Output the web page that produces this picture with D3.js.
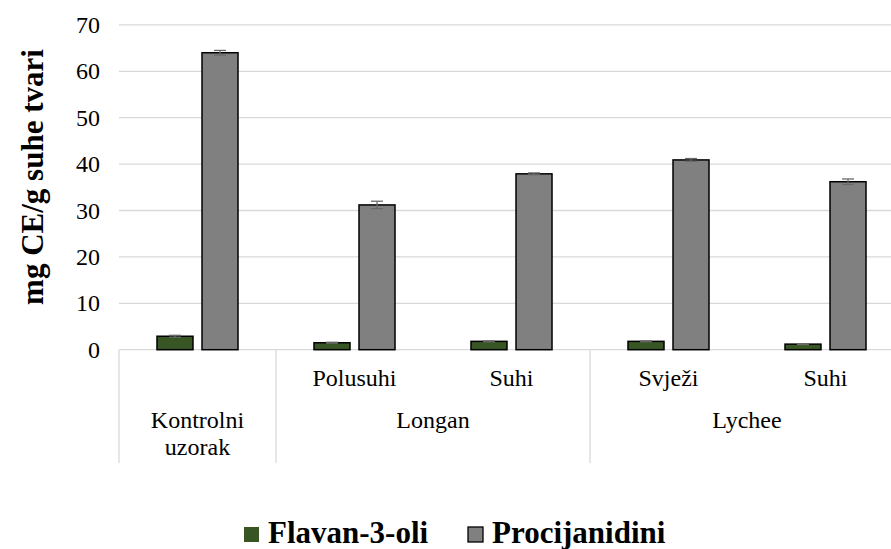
<!DOCTYPE html>
<html>
<head>
<meta charset="utf-8">
<script src="https://cdn.jsdelivr.net/npm/d3@7/dist/d3.min.js"></script>
<style>
  html, body { margin: 0; padding: 0; background: #fff; }
  svg { display: block; }
</style>
</head>
<body>
<svg id="chart" width="891" height="549" font-family="'Liberation Serif', 'Times New Roman', Times, serif"></svg>
<script>
// ---- data ----
const subLabels = ["", "Polusuhi", "Suhi", "Svježi", "Suhi"];
const groups = [
  { name: ["Kontrolni", "uzorak"], count: 1 },
  { name: ["Longan"], count: 2 },
  { name: ["Lychee"], count: 2 }
];
const seriesNames = ["Flavan-3-oli", "Procijanidini"];
const flavanValues = [2.9, 1.5, 1.8, 1.8, 1.2];
const flavanErrors = [0.2, 0.1, 0.1, 0.1, 0.1];
const procValues = [64.0, 31.2, 37.9, 40.9, 36.2];
const procErrors = [0.5, 0.8, 0.2, 0.3, 0.6];
const yTicks = [0, 10, 20, 30, 40, 50, 60, 70];
const colors = ["#375623", "#808080"];

// ---- layout ----
const FONT = "'Liberation Serif', 'Times New Roman', Times, serif";
const svg = d3.select("#chart");
const plotLeft = 119, plotRight = 904, plotTop = 24.9, plotBottom = 349.7;

const x = d3.scaleBand().domain(d3.range(subLabels.length)).range([plotLeft, plotRight]).padding(0);
const xs = d3.scaleBand().domain(seriesNames).range([0, x.bandwidth()])
  .paddingInner(0.2).paddingOuter(0.844);
const y = d3.scaleLinear().domain([0, 70]).range([plotBottom, plotTop]);

// gridlines
svg.append("g").selectAll("line").data(yTicks).join("line")
  .attr("x1", plotLeft).attr("x2", plotRight)
  .attr("y1", d => y(d)).attr("y2", d => y(d))
  .attr("stroke", "#d9d9d9").attr("stroke-width", 1.3);

// y tick labels
svg.append("g").selectAll("text").data(yTicks).join("text")
  .attr("x", 100).attr("y", d => y(d) + 8)
  .attr("text-anchor", "end")
  .attr("font-family", FONT)
  .attr("font-size", 24).attr("fill", "#000")
  .text(d => d);

// y title
svg.append("text")
  .attr("transform", "translate(43,177) rotate(-90)")
  .attr("text-anchor", "middle")
  .attr("font-family", FONT)
  .attr("font-size", 31).attr("font-weight", "bold")
  .text("mg CE/g suhe tvari");

// bars
const series = [
  { name: seriesNames[0], values: flavanValues, errors: flavanErrors, color: colors[0] },
  { name: seriesNames[1], values: procValues, errors: procErrors, color: colors[1] }
];
const barG = svg.append("g");
series.forEach(s => {
  const g = barG.append("g");
  g.selectAll("rect").data(s.values).join("rect")
    .attr("x", (d, i) => x(i) + xs(s.name))
    .attr("y", d => y(d))
    .attr("width", xs.bandwidth())
    .attr("height", d => y(0) - y(d))
    .attr("fill", s.color)
    .attr("stroke", "#000").attr("stroke-width", 1.5);
  // error bars
  const eg = g.append("g").attr("stroke", "#6a6a6a").attr("stroke-width", 1.3);
  s.values.forEach((v, i) => {
    const cx = x(i) + xs(s.name) + xs.bandwidth() / 2;
    const e = s.errors[i];
    eg.append("line").attr("x1", cx).attr("x2", cx).attr("y1", y(v + e)).attr("y2", y(v - e));
    eg.append("line").attr("x1", cx - 6).attr("x2", cx + 6).attr("y1", y(v + e)).attr("y2", y(v + e));
    eg.append("line").attr("x1", cx - 6).attr("x2", cx + 6).attr("y1", y(v - e)).attr("y2", y(v - e));
  });
});

// category sub labels
svg.append("g").selectAll("text").data(subLabels).join("text")
  .attr("x", (d, i) => x(i) + x.bandwidth() / 2)
  .attr("y", 386)
  .attr("text-anchor", "middle")
  .attr("font-family", FONT)
  .attr("font-size", 24)
  .text(d => d);

// group labels and separators
let idx = 0;
const sepXs = [x(0)];
groups.forEach(gr => {
  const x0 = x(idx);
  const x1 = x(idx + gr.count - 1) + x.bandwidth();
  sepXs.push(x1);
  const t = svg.append("text")
    .attr("x", (x0 + x1) / 2).attr("y", 428)
    .attr("text-anchor", "middle")
    .attr("font-family", FONT)
    .attr("font-size", 24);
  gr.name.forEach((line, j) => {
    t.append("tspan").attr("x", (x0 + x1) / 2).attr("dy", j === 0 ? 0 : 27).text(line);
  });
  idx += gr.count;
});
svg.append("g").selectAll("line").data(sepXs).join("line")
  .attr("x1", d => d).attr("x2", d => d)
  .attr("y1", plotBottom).attr("y2", 463)
  .attr("stroke", "#d9d9d9").attr("stroke-width", 1.3);

// legend
const legend = svg.append("g");
const legendItems = [
  { name: seriesNames[0], color: colors[0], x: 244, stroke: "none" },
  { name: seriesNames[1], color: colors[1], x: 468, stroke: "#000" }
];
legendItems.forEach(it => {
  legend.append("rect")
    .attr("x", it.x).attr("y", 527).attr("width", 15).attr("height", 15)
    .attr("fill", it.color).attr("stroke", it.stroke).attr("stroke-width", 1.3);
  legend.append("text")
    .attr("x", it.x + 24).attr("y", 543)
    .attr("font-family", FONT)
    .attr("font-size", 31).attr("font-weight", "bold")
    .text(it.name);
});
</script>
</body>
</html>
